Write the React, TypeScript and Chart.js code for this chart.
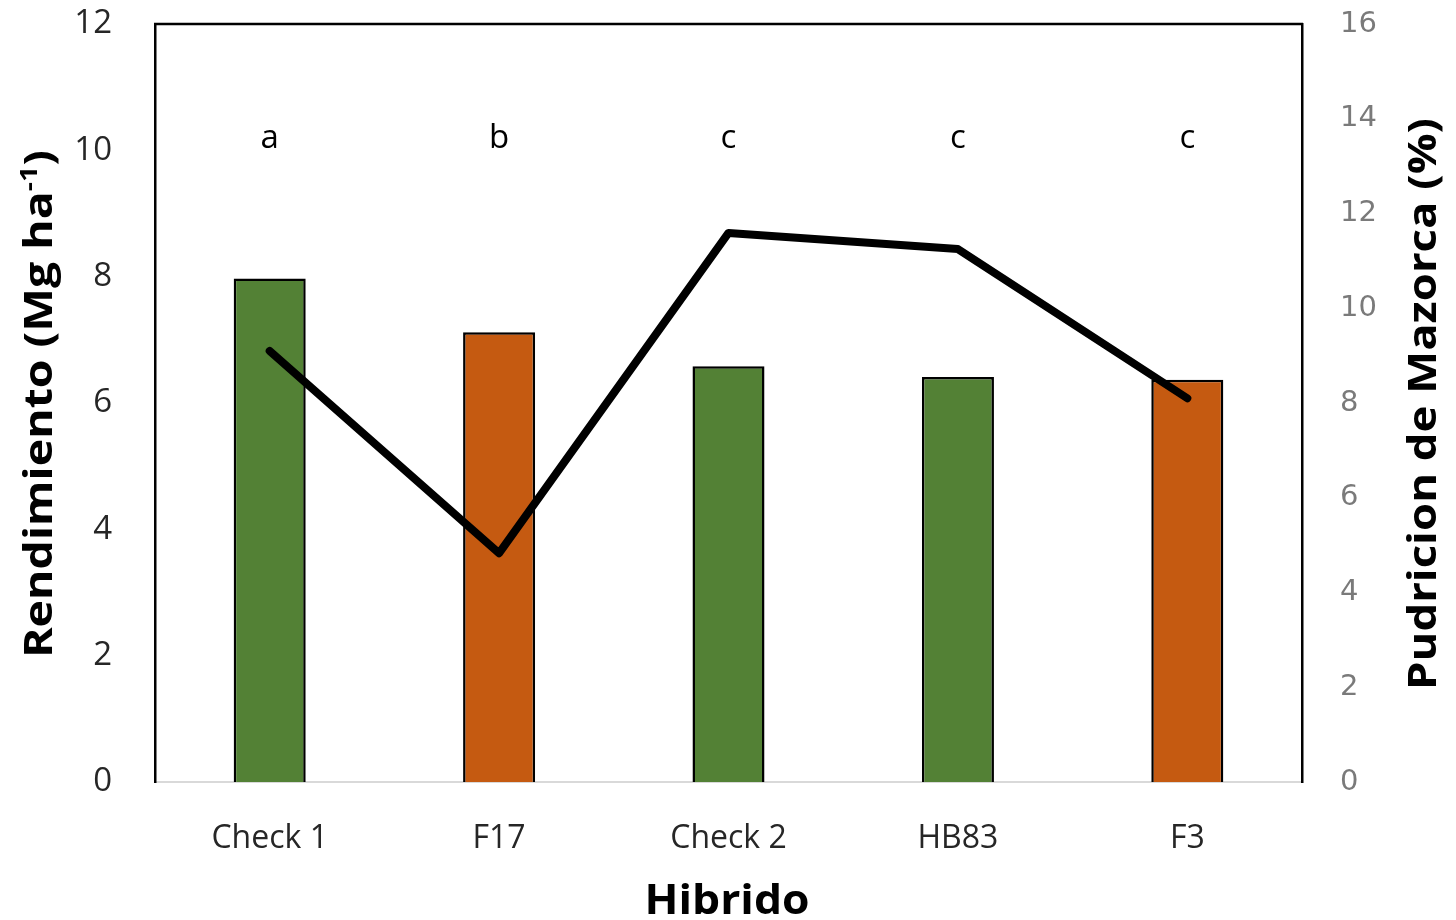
import React, { useEffect, useRef } from "react";
import { Chart, registerables } from "chart.js";

Chart.register(...registerables);

const categories = ["Check 1", "F17", "Check 2", "HB83", "F3"];
const rendimiento = [7.97, 7.12, 6.58, 6.41, 6.37];
const pudricion = [9.1, 4.83, 11.59, 11.25, 8.1];
const letters = ["a", "b", "c", "c", "c"];
const barColors = ["#538135", "#C55A11", "#538135", "#538135", "#C55A11"];
const leftMax = 12;
const rightMax = 16;
const tickStep = 2;
const letterLevel = 10.04;

type Seg = { text: string; font: string; dy: number };

function drawFitted(
  ctx: CanvasRenderingContext2D,
  x: number,
  y: number,
  rotate: boolean,
  segs: Seg[],
  target: number,
  color: string
) {
  ctx.save();
  ctx.translate(x, y);
  if (rotate) ctx.rotate(-Math.PI / 2);
  const widths = segs.map((s) => {
    ctx.font = s.font;
    return ctx.measureText(s.text).width;
  });
  const total = widths.reduce((a, b) => a + b, 0);
  ctx.scale(target / total, 1);
  ctx.fillStyle = color;
  ctx.textBaseline = "alphabetic";
  ctx.textAlign = "left";
  let cx = -total / 2;
  segs.forEach((s, i) => {
    ctx.font = s.font;
    ctx.fillText(s.text, cx, s.dy);
    cx += widths[i];
  });
  ctx.restore();
}

const overlayPlugin = {
  id: "overlay",
  beforeDatasetsDraw(chart: any) {
    const { ctx, chartArea } = chart;
    ctx.save();
    ctx.strokeStyle = "#000";
    ctx.lineWidth = 2.5;
    ctx.beginPath();
    ctx.moveTo(chartArea.left - 1, chartArea.top);
    ctx.lineTo(chartArea.right + 1, chartArea.top);
    ctx.stroke();
    ctx.restore();
  },
  afterDraw(chart: any) {
    const { ctx } = chart;
    const xs = chart.scales.x;
    const ys = chart.scales.y;
    ctx.save();
    ctx.fillStyle = "#000";
    ctx.font = "33px 'Open Sans'";
    ctx.textAlign = "center";
    ctx.textBaseline = "alphabetic";
    letters.forEach((l, i) => {
      ctx.fillText(l, xs.getPixelForValue(i), ys.getPixelForValue(letterLevel));
    });
    ctx.restore();

    const bold = "bold 39px 'Open Sans'";
    drawFitted(
      ctx,
      52,
      404,
      true,
      [
        { text: "Rendimiento (Mg ha", font: bold, dy: 0 },
        { text: "-1", font: "bold 24px 'Open Sans'", dy: -15 },
        { text: ")", font: bold, dy: 0 },
      ],
      508,
      "#000"
    );
    drawFitted(
      ctx,
      1436,
      404,
      true,
      [{ text: "Pudricion de Mazorca (%)", font: "bold 40px 'Open Sans'", dy: 0 }],
      572,
      "#000"
    );
    drawFitted(
      ctx,
      727,
      914,
      false,
      [{ text: "Hibrido", font: "bold 42px 'Open Sans'", dy: 0 }],
      165,
      "#000"
    );
  },
};

const fixVertical = (w: number) => (s: any) => {
  s.width = w;
  s.paddingTop = 0;
  s.paddingBottom = 0;
};

export default function App() {
  const ref = useRef<HTMLCanvasElement>(null);
  useEffect(() => {
    if (!ref.current) return;
    const chart = new Chart(ref.current, {
      type: "bar",
      data: {
        labels: categories,
        datasets: [
          {
            type: "line",
            label: "Pudricion",
            data: pudricion,
            yAxisID: "y1",
            borderColor: "#000",
            borderWidth: 8,
            pointRadius: 0,
            borderCapStyle: "round",
            borderJoinStyle: "round",
            tension: 0,
            order: 0,
          } as any,
          {
            type: "bar",
            label: "Rendimiento",
            data: rendimiento,
            yAxisID: "y",
            backgroundColor: barColors,
            borderColor: "#000",
            borderWidth: 2.5,
            barPercentage: 0.314,
            categoryPercentage: 1,
            order: 1,
          } as any,
        ],
      },
      options: {
        animation: false,
        responsive: false,
        devicePixelRatio: 1,
        layout: { padding: { top: 24, left: 0, right: 0, bottom: 0 } },
        plugins: { legend: { display: false }, tooltip: { enabled: false } },
        scales: {
          x: {
            grid: { display: false },
            border: { display: true, color: "#d9d9d9", width: 2 },
            ticks: {
              color: "#262626",
              font: { family: "'Open Sans'", size: 32 },
              padding: 30,
              maxRotation: 0,
            },
            afterFit: (s: any) => {
              s.height = 138;
              s.paddingLeft = 0;
              s.paddingRight = 0;
            },
          },
          y: {
            position: "left",
            min: 0,
            max: leftMax,
            grid: { display: false },
            border: { display: true, color: "#000", width: 2.5 },
            ticks: {
              stepSize: tickStep,
              color: "#262626",
              font: { family: "'Open Sans'", size: 33 },
              padding: 35,
            },
            afterFit: fixVertical(155),
          },
          y1: {
            position: "right",
            min: 0,
            max: rightMax,
            grid: { display: false },
            border: { display: true, color: "#000", width: 2.5 },
            ticks: {
              stepSize: tickStep,
              color: "#7a7a7a",
              font: { family: "'DejaVu Sans'", size: 29 },
              padding: 30,
            },
            afterFit: fixVertical(154),
          },
        },
      } as any,
      plugins: [overlayPlugin],
    });
    return () => chart.destroy();
  }, []);
  return (
    <div style={{ position: "fixed", left: 0, top: 0, width: 1456, height: 920, background: "#fff" }}>
      <canvas ref={ref} width={1456} height={920} style={{ display: "block" }} />
    </div>
  );
}
